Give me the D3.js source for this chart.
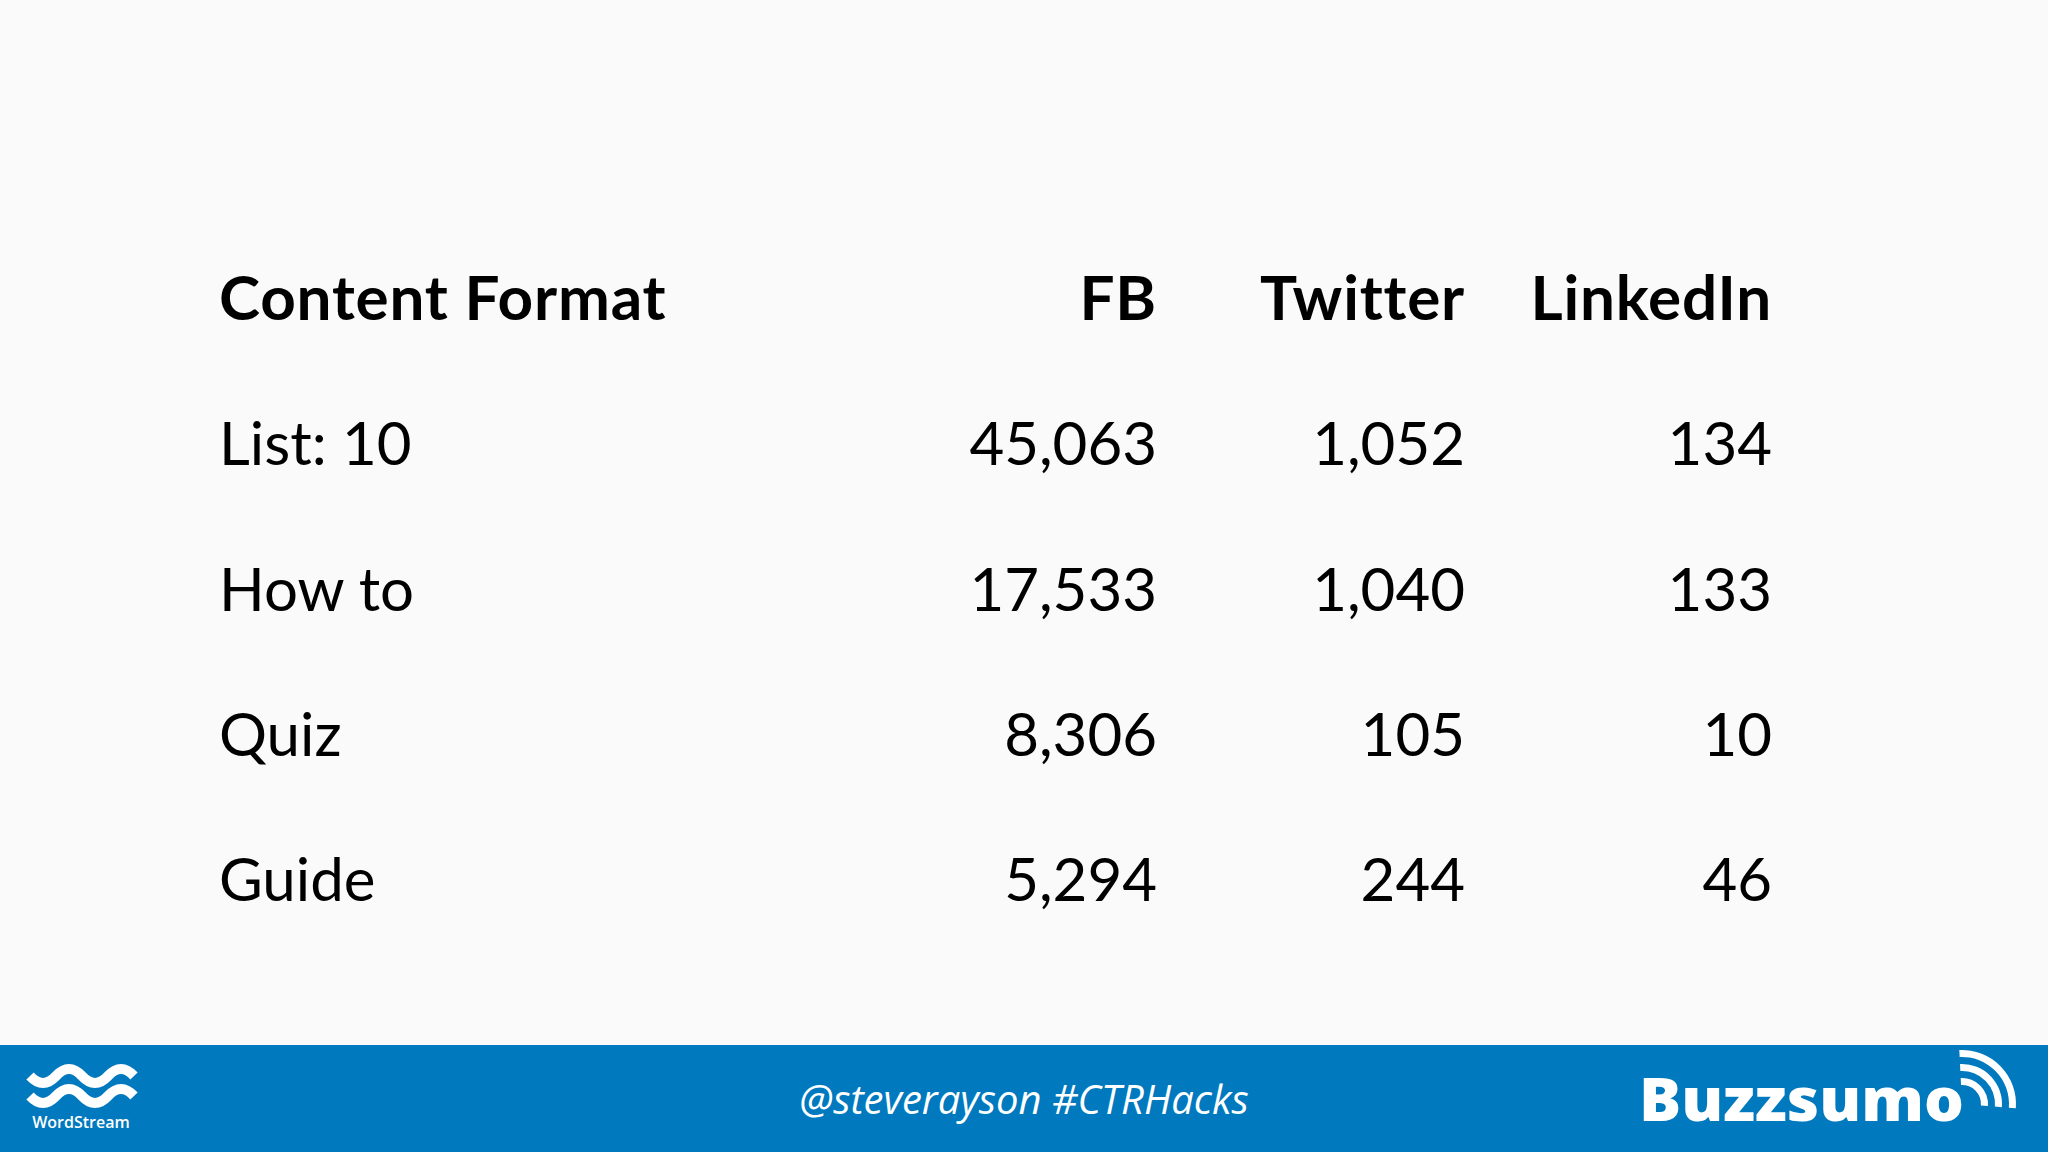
<!DOCTYPE html><html><head><meta charset="utf-8"><script src="https://cdn.jsdelivr.net/npm/d3@7"></script>
<style>body{margin:0;background:#fafafa}svg{display:block}</style></head><body>
<script>
const columns=["Content Format","FB","Twitter","LinkedIn"];
const categories=["List: 10","How to","Quiz","Guide"];
const fb=["45,063","17,533","8,306","5,294"];
const twitter=["1,052","1,040","105","244"];
const linkedin=["134","133","10","46"];
const W=2048,H=1152,F="Lato, 'Open Sans', sans-serif";
const svg=d3.select("body").append("svg").attr("width",W).attr("height",H);
svg.append("rect").attr("width",W).attr("height",H).attr("fill","#fafafa");
const y=d3.scalePoint().domain(["h",...categories]).range([320,901]);
const colX=[219,1157,1465,1772];
columns.forEach((c,i)=>svg.append("text").attr("x",colX[i]).attr("y",y("h")).attr("text-anchor",i?"end":"start")
 .attr("font-family",F).attr("font-weight",700).attr("font-size",62).attr("letter-spacing",0.8).attr("fill","#000").text(c));
categories.forEach((c,r)=>{
 [c,fb[r],twitter[r],linkedin[r]].forEach((v,i)=>svg.append("text").attr("x",colX[i]).attr("y",y(c))
  .attr("text-anchor",i?"end":"start").attr("font-family",F).attr("font-size",60).attr("fill","#000").text(v));
});
// footer
svg.append("rect").attr("y",1045).attr("width",W).attr("height",107).attr("fill","#0079be");
svg.append("text").attr("x",1024).attr("y",1114).attr("text-anchor","middle").attr("font-family","'Open Sans',sans-serif")
 .attr("font-style","italic").attr("font-size",40).attr("fill","#fff").text("@steverayson #CTRHacks");
// WordStream logo
const wave=(yy)=>{let p=`M30 ${yy}`;for(let k=0;k<4;k++){const x0=30+k*26;p+=` Q${x0+13} ${yy+(k%2?-14:14)} ${x0+26} ${yy}`;}return p;};
[1076,1096].forEach(yy=>svg.append("path").attr("d",wave(yy)).attr("fill","none").attr("stroke","#fff").attr("stroke-width",10));
svg.append("text").attr("x",81).attr("y",1128).attr("text-anchor","middle").attr("font-family","'Open Sans',sans-serif")
 .attr("font-size",16).attr("font-weight",600).attr("fill","#fff").text("WordStream");
// Buzzsumo logo
svg.append("text").attr("x",1639).attr("y",1121).attr("font-family","'Open Sans',sans-serif").attr("font-weight",800)
 .attr("font-size",60).attr("textLength",325).attr("lengthAdjust","spacingAndGlyphs").attr("fill","#fff").text("Buzzsumo");
[26,40,54].forEach(r=>svg.append("path").attr("d",d3.arc()({innerRadius:r-7,outerRadius:r,startAngle:-0.05,endAngle:1.65}))
 .attr("transform","translate(1962,1104)").attr("fill","#fff"));
</script></body></html>
